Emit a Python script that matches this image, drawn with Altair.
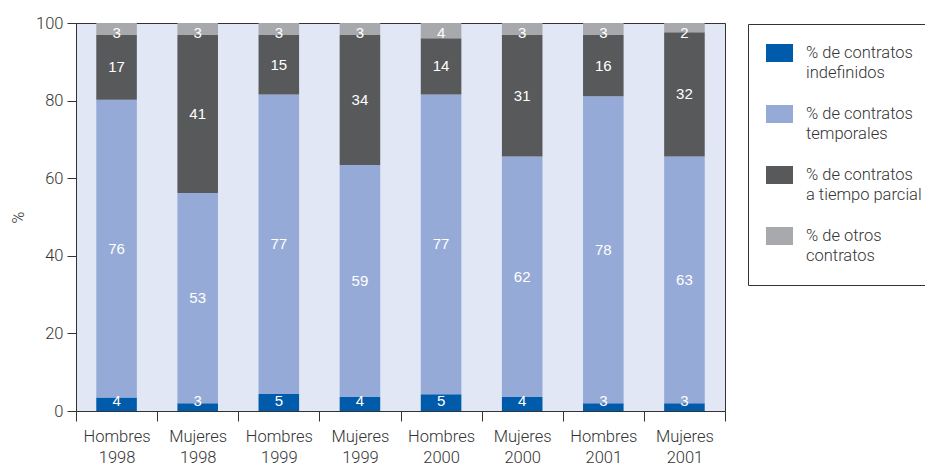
import altair as alt
import pandas as pd

categories = ["Hombres 1998", "Mujeres 1998", "Hombres 1999", "Mujeres 1999",
              "Hombres 2000", "Mujeres 2000", "Hombres 2001", "Mujeres 2001"]
series = ["% de contratos|indefinidos", "% de contratos|temporales",
          "% de contratos|a tiempo parcial", "% de otros|contratos"]
colors = ["#005BAA", "#95AAD6", "#58595B", "#A7A9AC"]

indefinidos = [3.5, 2.0, 4.4, 3.6, 4.3, 3.6, 2.0, 2.0]
temporales = [76.7, 54.2, 77.2, 59.8, 77.3, 62.0, 79.1, 63.6]
parcial = [16.7, 40.7, 15.3, 33.5, 14.5, 31.3, 15.8, 32.0]
otros = [3.1, 3.1, 3.1, 3.1, 3.9, 3.1, 3.1, 2.4]

labels_indef = [4, 3, 5, 4, 5, 4, 3, 3]
labels_temp = [76, 53, 77, 59, 77, 62, 78, 63]
labels_parc = [17, 41, 15, 34, 14, 31, 16, 32]
labels_otros = [3, 3, 3, 3, 4, 3, 3, 2]

values = [indefinidos, temporales, parcial, otros]
labels = [labels_indef, labels_temp, labels_parc, labels_otros]

rows = []
for ci, cat in enumerate(categories):
    cum = 0.0
    for si, s in enumerate(series):
        v = values[si][ci]
        mid = cum + v / 2
        if si == 0:
            mid = max(mid, 2.7)
        if si == 3:
            mid = min(mid, 97.3)
        rows.append(dict(cat=cat, series=s, idx=si, value=v, mid=mid,
                         label=str(labels[si][ci])))
        cum += v
df = pd.DataFrame(rows)

AX = "#333333"
FONT = "Roboto"

x = alt.X("cat:N", sort=categories,
          scale=alt.Scale(paddingInner=0, paddingOuter=0),
          axis=alt.Axis(title=None, labelAngle=0,
                        labelExpr="split(datum.label, ' ')",
                        tickBand="extent", tickSize=10, labelPadding=7,
                        labelFontSize=16.5, labelLineHeight=21,
                        domainColor=AX, tickColor=AX, labelColor=AX,
                        labelFont=FONT, labelFontWeight=300))

yscale = alt.Scale(domain=[0, 100], nice=False)

bars = alt.Chart(df).mark_bar(width={"band": 0.5}).encode(
    x=x,
    y=alt.Y("value:Q", stack="zero", scale=yscale,
            axis=alt.Axis(title="%", values=[0, 20, 40, 60, 80, 100], grid=False,
                          tickSize=9, labelPadding=4, labelFontSize=16.5,
                          labelFont=FONT, labelFontWeight=300, labelColor=AX,
                          domainColor=AX, tickColor=AX,
                          titleFont=FONT, titleFontWeight=300, titleFontSize=16,
                          titleColor=AX, titlePadding=9)),
    color=alt.Color("series:N", sort=series,
                    scale=alt.Scale(domain=series, range=colors),
                    legend=alt.Legend(orient="none", legendX=672, legendY=1,
                                      title=None,
                                      labelExpr="split(datum.label, '|')",
                                      symbolType="M-1,-1H2V1H-1Z",
                                      symbolSize=324, symbolStrokeWidth=0,
                                      symbolOffset=-2, labelOffset=22,
                                      strokeColor=AX, padding=20,
                                      rowPadding=23, labelFontSize=16.5,
                                      labelFont=FONT, labelFontWeight=300,
                                      labelColor=AX, labelLimit=400,
                                      labelBaseline="middle")),
    order=alt.Order("idx:Q", sort="ascending"),
)

text = alt.Chart(df).mark_text(color="white", fontSize=15,
                               font="Liberation Sans", baseline="middle").encode(
    x=alt.X("cat:N", sort=categories),
    y=alt.Y("mid:Q", scale=yscale),
    text="label:N",
)

chart = alt.layer(bars, text).properties(
    width=649, height=388,
    padding={"left": 68, "top": 15, "right": 200, "bottom": 60},
    autosize="none",
).configure(
    style={"guide-label": {"lineHeight": 20}}
).configure_view(
    fill="#E1E7F5", stroke=AX, strokeWidth=1
)

chart.save("out.html", embed_options={"renderer": "svg", "actions": False})
